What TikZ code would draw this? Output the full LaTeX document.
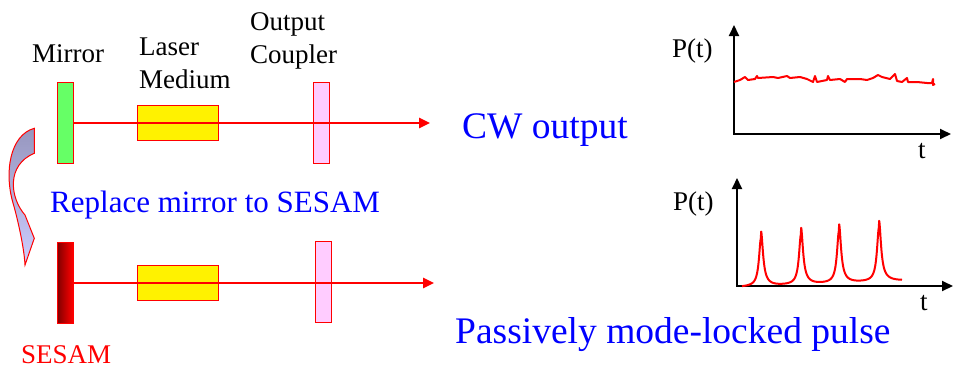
\documentclass[tikz,border=0pt]{standalone}
\usepackage{fontspec}
\setmainfont{Liberation Serif}
\usepackage{tikz}
\usetikzlibrary{arrows.meta}
\definecolor{mirgreen}{RGB}{102,255,102}
\definecolor{ocpink}{RGB}{255,204,255}
\definecolor{txtblue}{RGB}{0,0,255}
\begin{document}
\begin{tikzpicture}[
  x=1pt, y=-1pt, font=\fontsize{27}{33}\selectfont,
  optic/.style={draw=red, line width=1pt, inner sep=0pt, minimum width=16pt, minimum height=81pt},
  gain/.style={draw=red, line width=1pt, fill=yellow, inner sep=0pt, minimum width=81pt, minimum height=35pt},
  beam/.style={draw=red, line width=2.5pt, -{Triangle[length=11pt,width=10pt]}},
  axis/.style={draw=black, line width=2pt, {Triangle[length=11pt,width=10pt]}-{Triangle[length=11pt,width=10pt]}},
  sig/.style={draw=red, line width=2pt, line join=round},
  lbl/.style={inner sep=0pt, anchor=base west},
  big/.style={lbl, text=txtblue, font=\fontsize{37.5}{45}\selectfont}
]
\useasboundingbox (0,0) rectangle (954,370);
% cavities
\node[optic, fill=mirgreen] (m1) at (65,123) {};
\node[gain] (g1) at (177.5,122.5) {};
\node[optic, fill=ocpink] (oc1) at (321,122.5) {};
\node[optic, left color=red!50!black, right color=red] (m2) at (65,283) {};
\node[gain] (g2) at (178,282.5) {};
\node[optic, fill=ocpink] (oc2) at (323,282) {};
\coordinate (b1) at (430,123);
\coordinate (b2) at (434,283);
\foreach \u/\v in {m1/b1,m2/b2}{\draw[beam] (\u.east)--(\v);}
% labels
\node[lbl] (lmir) at (32,62) {Mirror};
\node[inner sep=0pt, anchor=north west, align=left] (lgain) at (139,38) {Laser\\Medium};
\node[inner sep=0pt, anchor=north west, align=left] (loc) at (250,12) {Output\\Coupler};
\node[lbl, text=txtblue, font=\fontsize{31}{37}\selectfont] (lrep) at (50,212) {Replace mirror to SESAM};
\node[lbl, text=red] (lses) at (21,363) {SESAM};
\node[big] (lcw) at (462,138) {CW output};
\node[big] (lml) at (455,343) {Passively mode-locked pulse};
% swap arrow
\path[draw=red, line width=1pt, top color={rgb,255:red,150;green,150;blue,190}, bottom color={rgb,255:red,205;green,205;blue,255}]
  (34.3,128.3) .. controls (10,135) and (4,172) .. (13,203)
  .. controls (16,213) and (24,245) .. (25,265)
  -- (34.3,238.3) -- (25,215)
  .. controls (10,198) and (6,165) .. (34.3,153.3) -- cycle;
% CW trace
\coordinate (y1) at (734,25);
\coordinate (x1) at (951,134);
\draw[axis] (y1) |- (x1);
\node[lbl] (p1) at (672,57) {P(t)};
\node[lbl] (t1) at (918,158) {t};
\draw[sig] plot coordinates {(734,82) (740,80) (745,77) (748,80) (755,79) (757,76) (758,78) (773,77)
  (778,78) (787,76) (790,78) (800,77) (807,79) (813,82) (815,76) (817,82) (827,80) (828,76)
  (830,80) (840,79) (845,82) (847,79) (860,79) (867,80) (873,78) (878,75) (882,77) (890,79)
  (895,74) (897,81) (902,82) (907,78) (908,82) (917,82) (927,83) (932,83) (933,79) (933,85) (935,84)};
% pulse trace
\coordinate (y2) at (737,178);
\coordinate (x2) at (953,286);
\draw[axis] (y2) |- (x2);
\node[lbl] (p2) at (673,210) {P(t)};
\node[lbl] (t2) at (920,310) {t};
\draw[sig] plot[domain=742:902, samples=401, smooth]
  (\x,{287-0.04*(\x-742)
    -48/(1+((\x-761)/2.4)^2)-50/(1+((\x-801)/2.4)^2)-52/(1+((\x-839)/2.4)^2)-54/(1+((\x-879)/2.4)^2)
    -7*(\x>761)*exp(-max(0,\x-761)/5)-7*(\x>801)*exp(-max(0,\x-801)/5)
    -7*(\x>839)*exp(-max(0,\x-839)/5)-7*(\x>879)*exp(-max(0,\x-879)/6)});
\end{tikzpicture}
\end{document}
